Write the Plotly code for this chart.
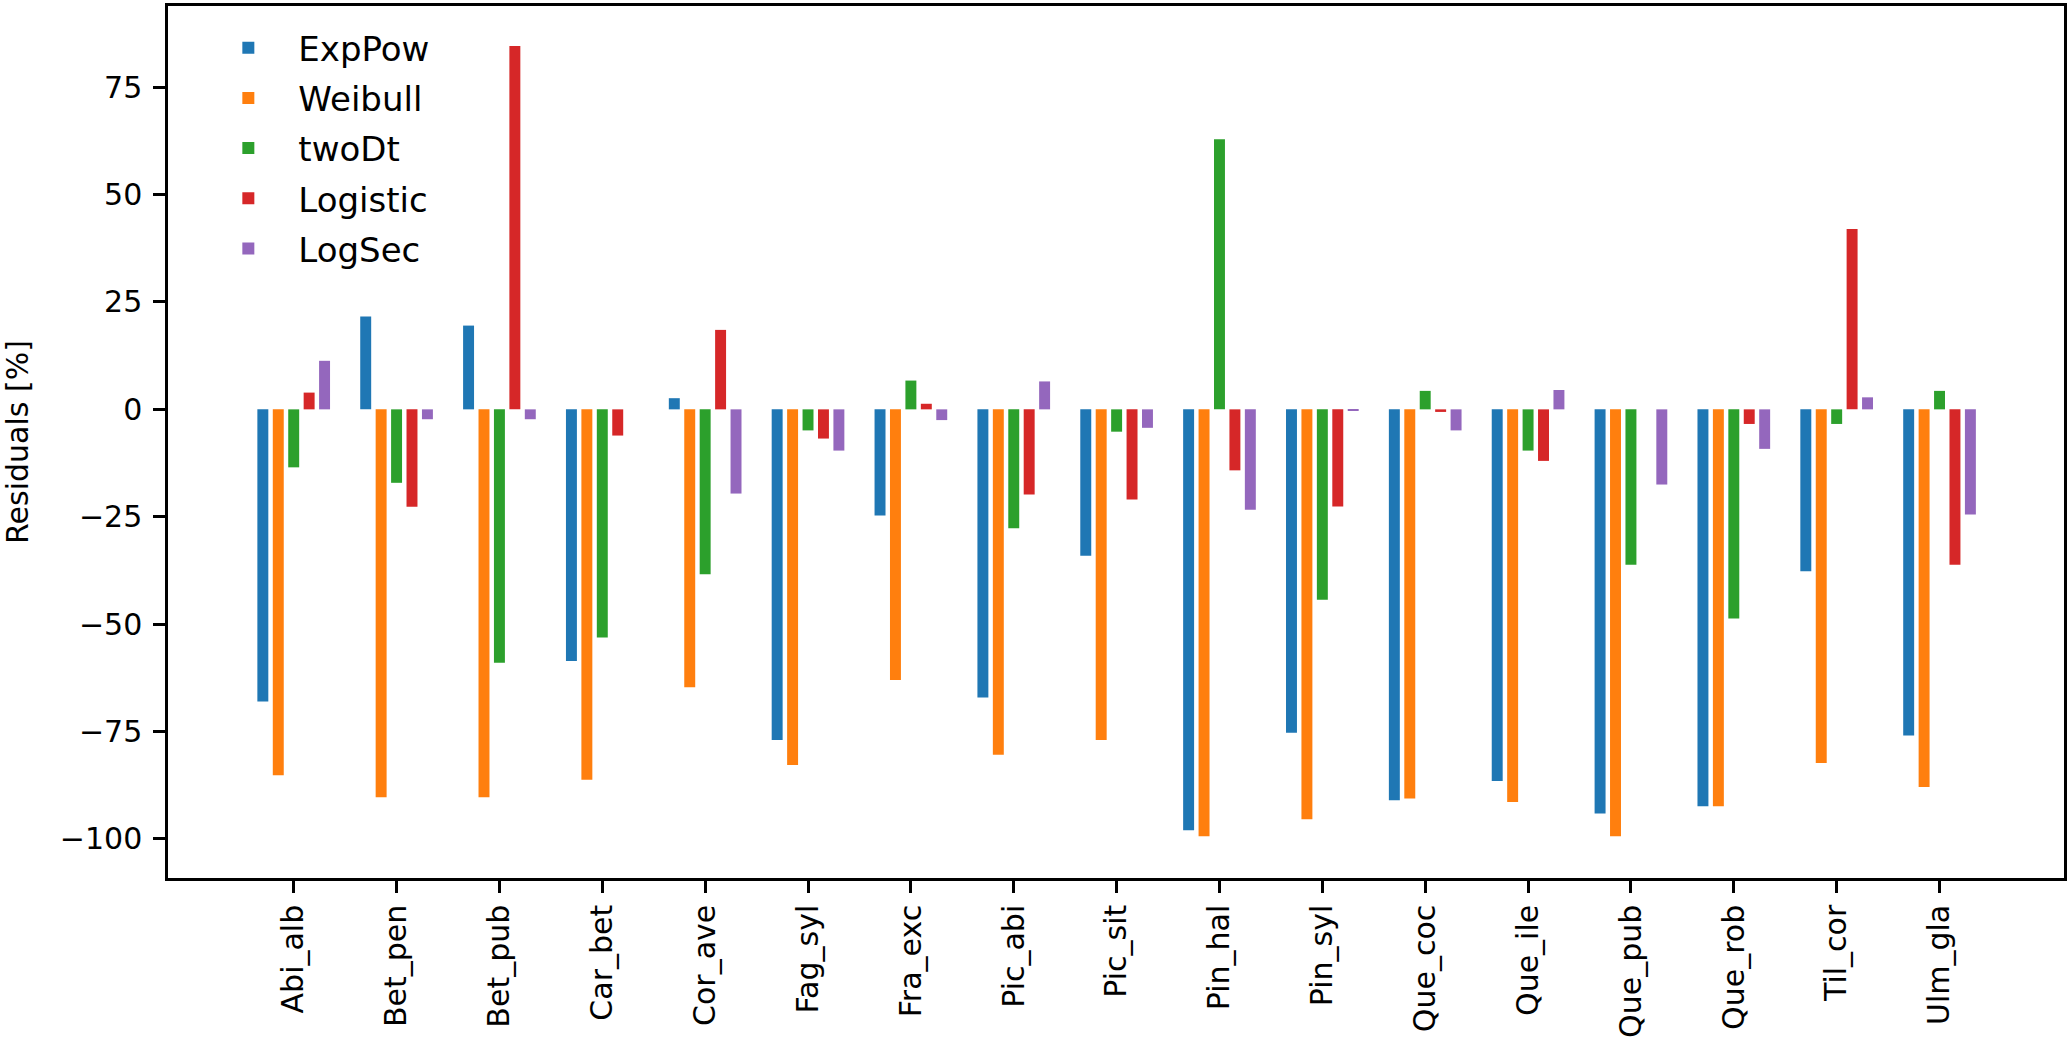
import plotly.graph_objects as go

categories = ["Abi_alb", "Bet_pen", "Bet_pub", "Car_bet", "Cor_ave", "Fag_syl", "Fra_exc",
              "Pic_abi", "Pic_sit", "Pin_hal", "Pin_syl", "Que_coc", "Que_ile", "Que_pub",
              "Que_rob", "Til_cor", "Ulm_gla"]

exppow = [-68.0, 21.6, 19.5, -58.6, 2.6, -77.0, -24.7, -67.1, -34.1, -98.0, -75.3, -91.0, -86.5, -94.1, -92.4, -37.7, -75.9]
weibull = [-85.2, -90.3, -90.3, -86.2, -64.7, -82.8, -63.0, -80.4, -77.0, -99.4, -95.4, -90.6, -91.4, -99.4, -92.4, -82.3, -87.9]
twodt = [-13.5, -17.1, -59.0, -53.1, -38.4, -4.9, 6.7, -27.7, -5.2, 62.9, -44.3, 4.3, -9.6, -36.2, -48.7, -3.4, 4.3]
logistic = [3.9, -22.7, 84.6, -6.1, 18.5, -6.8, 1.3, -19.8, -21.0, -14.2, -22.6, -0.6, -12.0, 0.0, -3.4, 42.0, -36.2]
logsec = [11.3, -2.3, -2.3, 0.0, -19.6, -9.6, -2.5, 6.5, -4.3, -23.4, -0.3, -4.9, 4.5, -17.5, -9.2, 2.8, -24.5]

series_names = ["ExpPow", "Weibull", "twoDt", "Logistic", "LogSec"]
series_values = [exppow, weibull, twodt, logistic, logsec]
colors = ["#1f77b4", "#ff7f0e", "#2ca02c", "#d62728", "#9467bd"]

FONT = "DejaVu Sans"

fig = go.Figure()
for name, vals, col in zip(series_names, series_values, colors):
    fig.add_trace(go.Bar(
        x=categories, y=vals, name=name,
        marker=dict(color=col, line=dict(width=0)),
        legendgroup=name,
    ))

fig.update_layout(
    width=2067, height=1059,
    margin=dict(l=168, r=3, t=3, b=181),
    paper_bgcolor="white", plot_bgcolor="white",
    barmode="group", bargap=0.25, bargroupgap=0.29,
    font=dict(family=FONT, size=30, color="black"),
    showlegend=True,
    legend=dict(
        x=0.016, y=0.985, xanchor="left", yanchor="top",
        bgcolor="rgba(0,0,0,0)", borderwidth=0,
        font=dict(family=FONT, size=34, color="black"),
        tracegroupgap=3, itemwidth=90,
    ),
)

fig.update_xaxes(
    type="category",
    range=[-1.222, 17.21],
    showline=True, mirror=True, linecolor="black", linewidth=2.5,
    ticks="outside", ticklen=12, tickwidth=2.5, tickcolor="black",
    tickangle=-90, showgrid=False, zeroline=False,
    tickfont=dict(family=FONT, size=30, color="black"),
)
fig.update_yaxes(
    range=[-109.1, 93.9],
    tickmode="linear", tick0=0, dtick=25,
    showline=True, mirror=True, linecolor="black", linewidth=2.5,
    ticks="outside", ticklen=12, tickwidth=2.5, tickcolor="black",
    ticklabelstandoff=5,
    showgrid=False, zeroline=False,
    tickfont=dict(family=FONT, size=30, color="black"),
    title=dict(text="Residuals [%]", font=dict(family=FONT, size=30, color="black"), standoff=32),
    automargin=False,
)

fig.write_html("out.html", config={"displayModeBar": False},
               post_script="document.body.style.margin='0px';")
